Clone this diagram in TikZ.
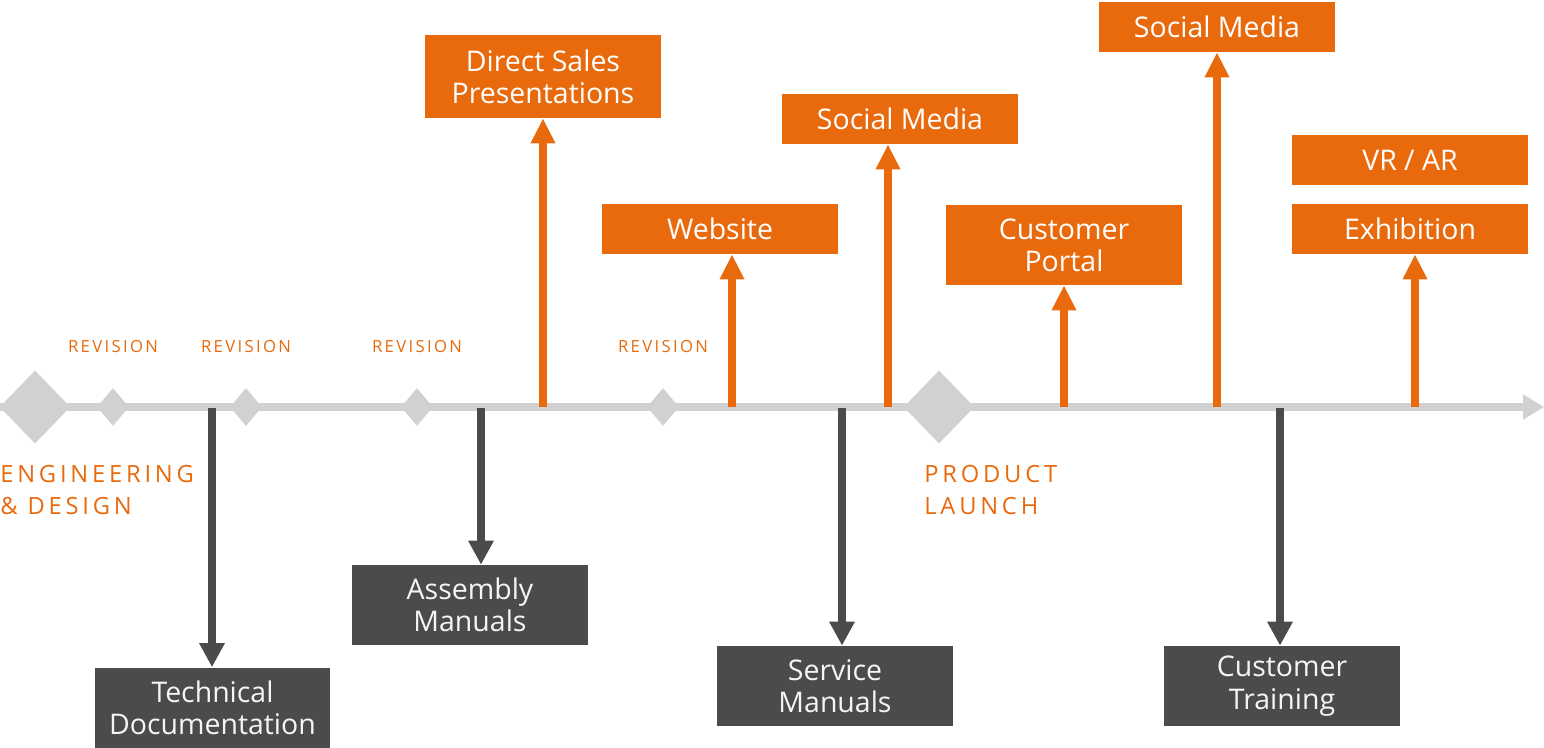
\documentclass[tikz,border=0pt]{standalone}
\usepackage{fontspec}
\setmainfont{Open Sans}
\newfontfamily\revfont[LetterSpace=14]{Open Sans}
\newfontfamily\phasefont[LetterSpace=16]{Open Sans}
\usepackage{tikz}
\usetikzlibrary{arrows.meta,shapes.geometric}
\definecolor{orangeC}{HTML}{E96A0C}
\definecolor{darkC}{HTML}{4B4B4B}
\definecolor{axisC}{HTML}{D1D1D1}

\tikzset{
  obox/.style={fill=orangeC, text=white, minimum width=4.72cm, minimum height=1cm,
    inner sep=0pt, align=center, font=\fontsize{16.2}{18.4}\selectfont},
  dbox/.style={fill=darkC, text=white!96!black, minimum width=4.72cm, minimum height=1.6cm,
    inner sep=0pt, align=center, font=\fontsize{16.2}{18.4}\selectfont},
  oarrow/.style={draw=orangeC, line width=0.16cm, -{Triangle[width=0.46cm,length=0.5cm]}},
  darrow/.style={draw=darkC, line width=0.16cm, -{Triangle[width=0.48cm,length=0.48cm]}},
  bigdiam/.style={diamond, fill=axisC, inner sep=0pt, minimum width=1.42cm, minimum height=1.46cm},
  smalldiam/.style={diamond, fill=axisC, inner sep=0pt, minimum width=0.64cm, minimum height=0.76cm},
  revlabel/.style={text=orangeC, inner sep=0pt, font=\revfont\fontsize{9.5}{11}\selectfont},
  phase/.style={text=orangeC, align=left, inner sep=0pt, anchor=north west,
    font=\phasefont\fontsize{13.5}{18.2}\selectfont}
}

\begin{document}
\begin{tikzpicture}[x=0.02cm, y=-0.02cm]
    \useasboundingbox[fill=white] (0,0) rectangle (1544,747);
    %% Truc thoi gian
    \coordinate (axisstart) at (0,407);
    \coordinate (axisend) at (1544,407);
    \draw[axisC, line width=0.15cm, -{Triangle[width=0.48cm,length=0.42cm]}] (axisstart) -- (axisend);
    \node[bigdiam] (eng) at (35,407) {};
    \node[bigdiam] (launch) at (939,407) {};
    \node[smalldiam] (rev1) at (113,407) {};
    \node[smalldiam] (rev2) at (246,407) {};
    \node[smalldiam] (rev3) at (417,407) {};
    \node[smalldiam] (rev4) at (663,407) {};
    %% Nhan
    \node[revlabel] at (113,347) {REVISION};
    \node[revlabel] at (246,347) {REVISION};
    \node[revlabel] at (417,347) {REVISION};
    \node[revlabel] at (663,347) {REVISION};
    \node[phase] (englabel) at (0,465) {ENGINEERING\\\& DESIGN};
    \node[phase] (launchlabel) at (924,465) {PRODUCT\\LAUNCH};
    %% Cac hop phia tren
    \node[obox, minimum height=1.66cm] (sales) at (543,76.5) {Direct Sales\\Presentations};
    \node[obox] (web) at (720,229) {Website};
    \node[obox] (social1) at (900,119) {Social Media};
    \node[obox, minimum height=1.6cm] (portal) at (1064,245) {Customer\\Portal};
    \node[obox] (social2) at (1217,27) {Social Media};
    \node[obox] (vrar) at (1410,160) {VR / AR};
    \node[obox] (expo) at (1410,229) {Exhibition};
    %% Cac hop phia duoi
    \node[dbox] (tech) at (212.5,707.5) {Technical\\Documentation};
    \node[dbox] (assembly) at (470,605) {Assembly\\Manuals};
    \node[dbox] (service) at (835,686) {Service\\Manuals};
    \node[dbox] (training) at (1282,686) {Customer\\Training};
    %% Mui ten len
    \coordinate (u1) at (543,407);
    \coordinate (u2) at (732,407);
    \coordinate (u3) at (888,407);
    \coordinate (u4) at (1064,407);
    \coordinate (u5) at (1217,407);
    \coordinate (u6) at (1415,407);
    \draw[oarrow] (u1) -- (u1 |- sales.south);
    \draw[oarrow] (u2) -- (u2 |- web.south);
    \draw[oarrow] (u3) -- (u3 |- social1.south);
    \draw[oarrow] (u4) -- (u4 |- portal.south);
    \draw[oarrow] (u5) -- (u5 |- social2.south);
    \draw[oarrow] (u6) -- (u6 |- expo.south);
    %% Mui ten xuong
    \coordinate (d1) at (212,408);
    \coordinate (d2) at (481,408);
    \coordinate (d3) at (842,408);
    \coordinate (d4) at (1280,408);
    \draw[darrow] (d1) -- (d1 |- tech.north);
    \draw[darrow] (d2) -- (d2 |- assembly.north);
    \draw[darrow] (d3) -- (d3 |- service.north);
    \draw[darrow] (d4) -- (d4 |- training.north);
\end{tikzpicture}
\end{document}
